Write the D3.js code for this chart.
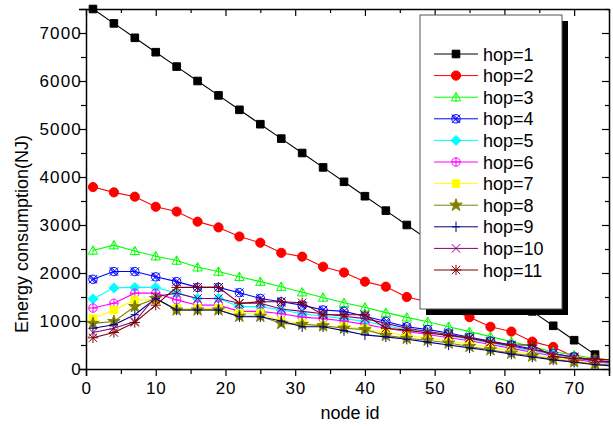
<!DOCTYPE html>
<html>
<head>
<meta charset="utf-8">
<script src="https://cdn.jsdelivr.net/npm/d3@7/dist/d3.min.js"></script>
<style>
  html, body { margin: 0; padding: 0; background: #fff; }
  svg { display: block; font-family: "Liberation Sans", Arial, sans-serif; }
</style>
</head>
<body>
<svg id="chart" width="613" height="426"></svg>
<script>
// node ids that carry a marker (every third node)
const nodes = [1, 4, 7, 10, 13, 16, 19, 22, 25, 28, 31, 34, 37, 40, 43, 46, 49, 52, 55, 58, 61, 64, 67, 70, 73];

const hop1 = [7500, 7200, 6900, 6600, 6300, 6000, 5700, 5400, 5100, 4800, 4500, 4200, 3900, 3600, 3300, 3000, 2700, 2400, 2100, 1800, 1500, 1200, 900, 600, 300];
const hop2 = [3790, 3680, 3590, 3380, 3280, 3070, 2950, 2760, 2630, 2420, 2340, 2130, 2010, 1820, 1715, 1500, 1400, 1250, 1080, 880, 780, 570, 460, 255, 190];
const hop3 = [2470, 2580, 2460, 2350, 2260, 2120, 2030, 1920, 1820, 1715, 1600, 1490, 1380, 1285, 1175, 1076, 986, 882, 778, 674, 570, 465, 360, 290, 220];
const hop4 = [1870, 2030, 2030, 1920, 1820, 1700, 1700, 1590, 1470, 1400, 1330, 1230, 1200, 1100, 990, 880, 820, 750, 660, 580, 500, 420, 320, 250, 170];
const hop5 = [1460, 1690, 1700, 1700, 1580, 1470, 1470, 1300, 1300, 1230, 1150, 1100, 1050, 990, 900, 820, 760, 690, 620, 540, 460, 380, 300, 230, 160];
const hop6 = [1270, 1370, 1580, 1580, 1440, 1330, 1330, 1200, 1200, 1150, 1080, 1050, 1000, 930, 850, 780, 720, 650, 590, 510, 430, 350, 270, 200, 140];
const hop7 = [1050, 1230, 1440, 1440, 1260, 1260, 1260, 1160, 1160, 1000, 950, 900, 880, 840, 760, 700, 640, 580, 520, 450, 380, 300, 230, 170, 110];
const hop8 = [950, 990, 1300, 1470, 1230, 1230, 1230, 1100, 1100, 950, 930, 900, 850, 820, 700, 640, 600, 540, 470, 400, 330, 270, 200, 150, 100];
const hop9 = [850, 920, 1130, 1470, 1230, 1230, 1230, 1090, 1090, 1000, 880, 880, 800, 710, 670, 620, 560, 500, 440, 380, 310, 250, 190, 140, 90];
const hop10 = [760, 850, 990, 1510, 1580, 1470, 1470, 1370, 1370, 1250, 1200, 1150, 1100, 1050, 950, 850, 780, 720, 650, 560, 480, 400, 320, 240, 170];
const hop11 = [650, 760, 970, 1330, 1700, 1700, 1700, 1370, 1400, 1400, 1380, 1130, 1130, 1130, 850, 810, 750, 700, 640, 560, 500, 500, 260, 220, 210];

// last node (75) has no marker; line only
const lastNode = 75;
const lastValues = [null, 150, 190, 150, 130, 120, 100, 80, 70, 140, 190];

const names = ['hop=1', 'hop=2', 'hop=3', 'hop=4', 'hop=5', 'hop=6', 'hop=7', 'hop=8', 'hop=9', 'hop=10', 'hop=11'];
const colors = ['#000000', '#FF0000', '#00FF00', '#0000FF', '#00FFFF', '#FF00FF', '#FFFF00', '#808000', '#000080', '#800080', '#800000'];
const markers = ['square', 'circle', 'triangle', 'circlex', 'diamond', 'circleplus', 'square', 'star', 'plus', 'cross', 'asterisk'];
const values = [hop1, hop2, hop3, hop4, hop5, hop6, hop7, hop8, hop9, hop10, hop11];

const xTicks = [0, 10, 20, 30, 40, 50, 60, 70];
const yTicks = [0, 1000, 2000, 3000, 4000, 5000, 6000, 7000];

const series = names.map((n, i) => ({
  name: n, color: colors[i], marker: markers[i],
  pts: nodes.map((d, j) => ({ x: d, y: values[i][j] })),
  end: lastValues[i]
}));

const svg = d3.select('#chart');
const L = 86, R = 609, T = 9, B = 369;
const x = d3.scaleLinear().domain([0, 75]).range([L, R]);
const y = d3.scaleLinear().domain([0, 7500]).range([B, T]);

// marker shapes, drawn around 0,0
function circ(r) { return `M${-r},0a${r},${r} 0 1,0 ${2 * r},0a${r},${r} 0 1,0 ${-2 * r},0Z`; }
function markerPath(type) {
  const s = 4.2;
  switch (type) {
    case 'square': return `M-3.8,-3.8h7.6v7.6h-7.6Z`;
    case 'circle': return circ(4.6);
    case 'triangle': return `M0,${-s - 0.5}L${s + 0.5},${s - 0.5}L${-s - 0.5},${s - 0.5}ZM0,${-s}V${s + 0.5}`;
    case 'circlex': return circ(s) + `M${-s},${-s}L${s},${s}M${-s},${s}L${s},${-s}M${-s + 1.5},${-s}L${s},${s - 1.5}M${-s},${-s + 1.5}L${s - 1.5},${s}`;
    case 'diamond': return `M0,${-s - 0.8}L${s + 0.8},0L0,${s + 0.8}L${-s - 0.8},0Z`;
    case 'circleplus': return circ(s) + `M${-s},0H${s}M0,${-s}V${s}`;
    case 'star': return d3.symbol(d3.symbolStar, 48)();
    case 'plus': return `M${-s},0H${s}M0,${-s - 1}V${s + 1}`;
    case 'cross': return `M${-s},${-s}L${s},${s}M${-s},${s}L${s},${-s}`;
    case 'asterisk': return `M${-s},${-s}L${s},${s}M${-s},${s}L${s},${-s}M${-s - 1},0H${s + 1}M0,${-s - 1}V${s + 1}`;
  }
}
const filled = { square: true, circle: true, diamond: true, star: true };

const line = d3.line().x(d => x(d.x)).y(d => y(d.y));

const gData = svg.append('g');
series.forEach(s => {
  const g = gData.append('g');
  const linePts = s.end == null ? s.pts : s.pts.concat([{ x: lastNode, y: s.end }]);
  g.append('path').attr('d', line(linePts))
    .attr('fill', 'none').attr('stroke', s.color).attr('stroke-width', 1.1);
  g.selectAll('path.m').data(s.pts).join('path').attr('class', 'm')
    .attr('d', markerPath(s.marker))
    .attr('transform', d => `translate(${x(d.x)},${y(d.y)})`)
    .attr('fill', filled[s.marker] ? s.color : 'none')
    .attr('stroke', s.color).attr('stroke-width', 1);
});

// axes: bottom/left ticks out, top/right ticks in
const fs = 17;
svg.append('g').attr('transform', `translate(0,${B})`)
  .call(d3.axisBottom(x).tickValues(d3.range(0, 76, 5)).tickSize(7).tickFormat(d => xTicks.includes(d) ? d : ''))
  .call(g => g.selectAll('text').attr('font-size', fs).attr('font-family', 'inherit').attr('fill', '#000')
    .attr('dy', '0.9em').attr('letter-spacing', 0.8))
  .call(g => g.selectAll('.tick line').attr('y2', d => d % 10 === 0 ? 7 : 5));
svg.append('g').attr('transform', `translate(${L},0)`)
  .call(d3.axisLeft(y).tickValues(d3.range(0, 7501, 500)).tickSize(7).tickFormat(d => yTicks.includes(d) ? d : ''))
  .call(g => g.selectAll('text').attr('font-size', fs).attr('font-family', 'inherit').attr('fill', '#000')
    .attr('x', -4).attr('letter-spacing', 1.2))
  .call(g => g.selectAll('.tick line').attr('x2', d => d % 1000 === 0 ? -7 : -5));
svg.append('g').attr('transform', `translate(0,${T})`)
  .call(d3.axisTop(x).tickValues(d3.range(0, 76, 5)).tickSizeInner(-7).tickSizeOuter(0).tickFormat(''))
  .call(g => g.selectAll('.tick line').attr('y2', d => d % 10 === 0 ? 7 : 4));
svg.append('g').attr('transform', `translate(${R},0)`)
  .call(d3.axisRight(y).tickValues(d3.range(0, 7501, 500)).tickSizeInner(-7).tickSizeOuter(0).tickFormat(''))
  .call(g => g.selectAll('.tick line').attr('x2', d => d % 1000 === 0 ? -7 : -4));
svg.selectAll('.domain').attr('stroke', '#000').attr('stroke-width', 1.5);
svg.selectAll('.tick line').attr('stroke', '#000').attr('stroke-width', 1.2);

// axis titles
svg.append('text').attr('x', 350).attr('y', 419).attr('text-anchor', 'middle')
  .attr('font-size', 18).text('node id');
svg.append('text').attr('transform', 'translate(28,234) rotate(-90)').attr('text-anchor', 'middle')
  .attr('font-size', 18).text('Energy consumption(NJ)');

// legend with drop shadow
const lg = svg.append('g');
lg.append('rect').attr('x', 426).attr('y', 21).attr('width', 142).attr('height', 294).attr('fill', '#000');
lg.append('rect').attr('x', 420).attr('y', 15).attr('width', 142).attr('height', 294)
  .attr('fill', '#fff').attr('stroke', '#555').attr('stroke-width', 1);
series.forEach((s, i) => {
  const yy = 54 + i * 21.6;
  lg.append('line').attr('x1', 434).attr('x2', 478).attr('y1', yy).attr('y2', yy)
    .attr('stroke', s.color).attr('stroke-width', 1);
  lg.append('path').attr('d', markerPath(s.marker)).attr('transform', `translate(456,${yy})`)
    .attr('fill', filled[s.marker] ? s.color : 'none').attr('stroke', s.color).attr('stroke-width', 1);
  lg.append('text').attr('x', 483).attr('y', yy + 6.5).attr('font-size', 18).text(s.name);
});
</script>
</body>
</html>
